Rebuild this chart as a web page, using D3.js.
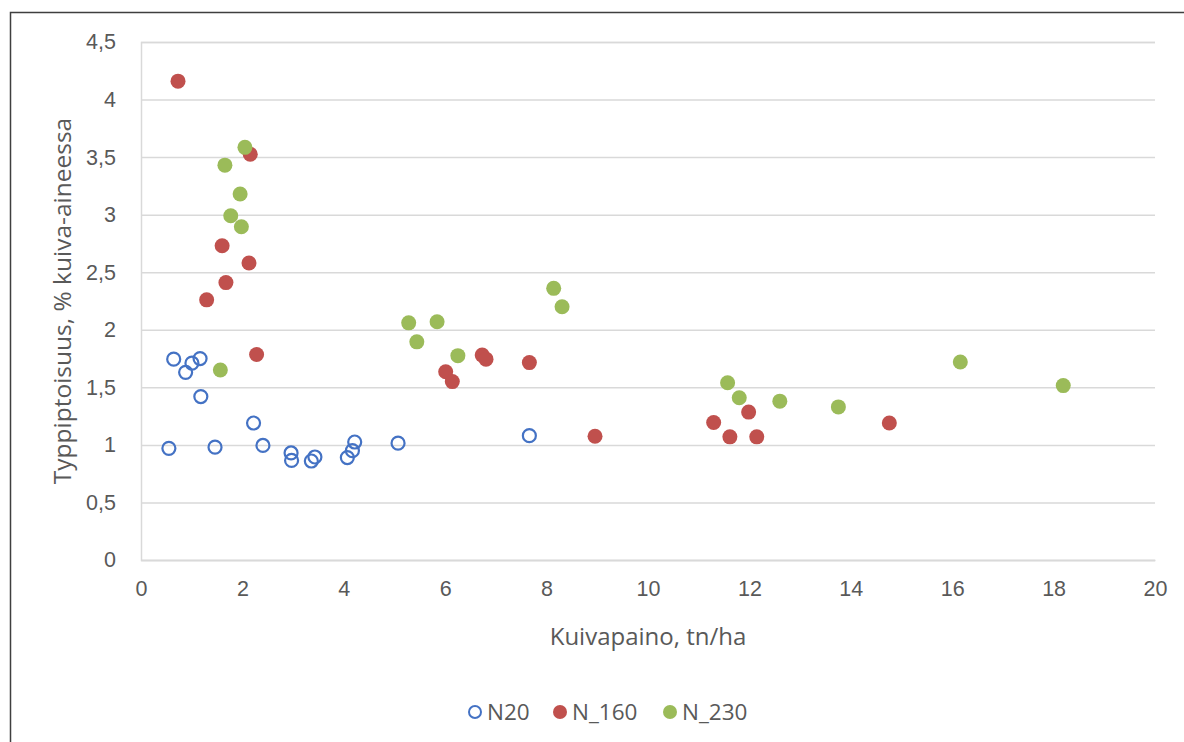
<!DOCTYPE html>
<html>
<head>
<meta charset="utf-8">
<script src="https://cdn.jsdelivr.net/npm/d3@7"></script>
<style>
  html, body { margin: 0; padding: 0; background: #fff; }
  svg { display: block; font-family: "Open Sans", "Noto Sans", sans-serif; }
</style>
</head>
<body>
<svg id="chart" width="1184" height="742"></svg>
<script>
// Kuivapaino (tn/ha) and typpipitoisuus (%) per treatment
const n20X = [0.55, 0.645, 0.88, 1.005, 1.165, 1.18, 1.46, 2.22, 2.405, 2.96, 2.97, 3.36, 3.43, 4.07, 4.17, 4.215, 5.07, 7.66];
const n20Y = [0.97, 1.745, 1.63, 1.71, 1.75, 1.42, 0.98, 1.19, 0.995, 0.93, 0.865, 0.86, 0.895, 0.89, 0.95, 1.025, 1.015, 1.08];

const n160X = [0.73, 2.155, 1.6, 2.13, 1.675, 1.295, 2.28, 6.01, 6.14, 6.73, 6.805, 7.66, 8.955, 11.295, 11.615, 11.985, 12.145, 14.76];
const n160Y = [4.16, 3.525, 2.73, 2.58, 2.41, 2.26, 1.785, 1.635, 1.55, 1.78, 1.745, 1.715, 1.075, 1.195, 1.07, 1.285, 1.07, 1.19];

const n230X = [2.05, 1.655, 1.955, 1.77, 1.98, 1.565, 5.28, 5.84, 5.44, 6.25, 8.14, 8.305, 11.57, 11.8, 12.6, 13.755, 16.16, 18.19];
const n230Y = [3.585, 3.43, 3.18, 2.99, 2.895, 1.65, 2.06, 2.07, 1.895, 1.775, 2.36, 2.2, 1.54, 1.41, 1.38, 1.33, 1.72, 1.515];

const seriesNames = ["N20", "N_160", "N_230"];
const seriesColors = ["#4472C4", "#C0504D", "#9BBB59"];
const seriesHollow = [true, false, false];

const xTicks = [0, 2, 4, 6, 8, 10, 12, 14, 16, 18, 20];
const yTicks = [0, 0.5, 1, 1.5, 2, 2.5, 3, 3.5, 4, 4.5];

const xTitle = "Kuivapaino, tn/ha";
const yTitle = "Typpiptoisuus, % kuiva-aineessa";

const series = [
  { name: seriesNames[0], xs: n20X, ys: n20Y, color: seriesColors[0], hollow: seriesHollow[0] },
  { name: seriesNames[1], xs: n160X, ys: n160Y, color: seriesColors[1], hollow: seriesHollow[1] },
  { name: seriesNames[2], xs: n230X, ys: n230Y, color: seriesColors[2], hollow: seriesHollow[2] }
];

const svg = d3.select("#chart");
const textColor = "#595959";
const gridColor = "#d9d9d9";

// Outer chart frame
svg.append("rect")
  .attr("x", 10.5).attr("y", 12.5)
  .attr("width", 1200).attr("height", 800)
  .attr("fill", "#fff")
  .attr("stroke", "#3f3f3f")
  .attr("stroke-width", 1.5);

const plot = { left: 141, right: 1155, top: 42, bottom: 560 };

const x = d3.scaleLinear().domain([0, 20]).range([plot.left, plot.right]);
const y = d3.scaleLinear().domain([0, 4.5]).range([plot.bottom, plot.top]);

// Horizontal gridlines and y tick labels
const yAxis = d3.axisLeft(y)
  .tickValues(yTicks)
  .tickSize(-(plot.right - plot.left))
  .tickPadding(25)
  .tickFormat(d => String(d).replace(".", ","));

const gy = svg.append("g")
  .attr("transform", `translate(${plot.left},0)`)
  .call(yAxis);
gy.select(".domain").attr("stroke", gridColor).attr("stroke-width", 1.5);
gy.selectAll(".tick line").attr("stroke", gridColor).attr("stroke-width", 1.5);
gy.selectAll(".tick text")
  .attr("fill", textColor)
  .attr("font-size", 21.5);

// X axis baseline and tick labels
const xAxis = d3.axisBottom(x)
  .tickValues(xTicks)
  .tickSize(0)
  .tickPadding(21)
  .tickFormat(d3.format("d"));

const gx = svg.append("g")
  .attr("transform", `translate(0,${plot.bottom})`)
  .call(xAxis);
gx.select(".domain").attr("stroke", gridColor).attr("stroke-width", 1.5);
gx.selectAll(".tick text")
  .attr("fill", textColor)
  .attr("font-size", 21.5);

// Axis titles
svg.append("text")
  .attr("x", 648)
  .attr("y", 645)
  .attr("text-anchor", "middle")
  .attr("fill", textColor)
  .attr("font-size", 24)
  .text(xTitle);

svg.append("text")
  .attr("transform", `translate(71,${(plot.top + plot.bottom) / 2}) rotate(-90)`)
  .attr("text-anchor", "middle")
  .attr("fill", textColor)
  .attr("font-size", 24.5)
  .text(yTitle);

// Markers
const markerR = 7;
series.forEach(s => {
  const pts = s.xs.map((v, i) => ({ x: v, y: s.ys[i] }));
  svg.append("g")
    .selectAll("circle")
    .data(pts)
    .join("circle")
    .attr("cx", d => x(d.x))
    .attr("cy", d => y(d.y))
    .attr("r", s.hollow ? markerR - 0.5 : markerR + 0.5)
    .attr("fill", s.hollow ? "none" : s.color)
    .attr("stroke", s.hollow ? s.color : "none")
    .attr("stroke-width", s.hollow ? 2.2 : 0);
});

// Legend
const legendItems = [
  { cx: 475, tx: 487 },
  { cx: 560, tx: 572 },
  { cx: 670, tx: 682 }
];
const legendY = 712;
const lg = svg.append("g");
series.forEach((s, i) => {
  const it = legendItems[i];
  lg.append("circle")
    .attr("cx", it.cx).attr("cy", legendY)
    .attr("r", s.hollow ? 6 : 7)
    .attr("fill", s.hollow ? "none" : s.color)
    .attr("stroke", s.hollow ? s.color : "none")
    .attr("stroke-width", s.hollow ? 2 : 0);
  lg.append("text")
    .attr("x", it.tx).attr("y", legendY)
    .attr("dy", "0.35em")
    .attr("fill", textColor)
    .attr("font-size", 22.5)
    .text(s.name);
});
</script>
</body>
</html>
